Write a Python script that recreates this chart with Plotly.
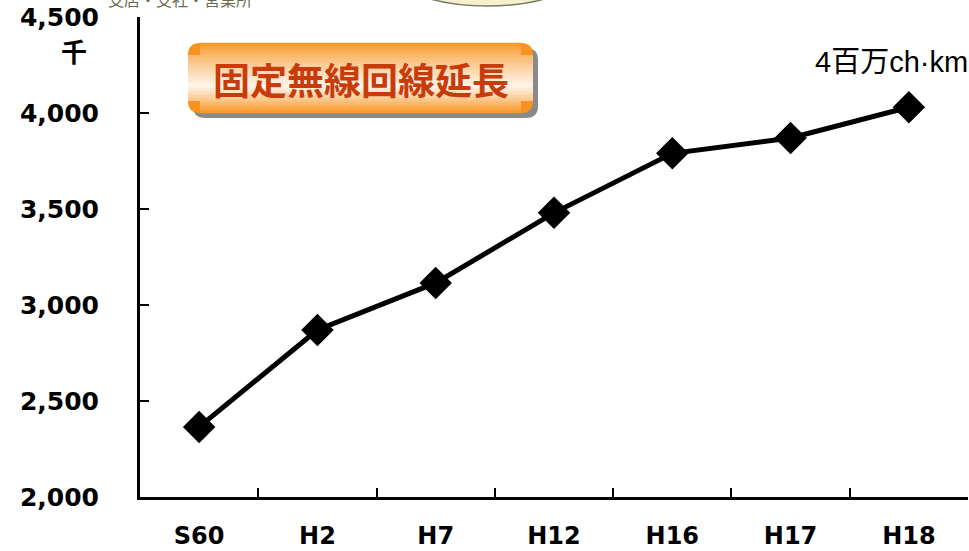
import plotly.graph_objects as go

categories = ["S60", "H2", "H7", "H12", "H16", "H17", "H18"]
values = [2365, 2870, 3115, 3480, 3790, 3870, 4030]
y_ticks = [2000, 2500, 3000, 3500, 4000, 4500]
y_tick_labels = ["2,000", "2,500", "3,000", "3,500", "4,000", "4,500"]
title_text = "固定無線回線延長"
unit_left = "千"
unit_right = "4百万ch·km"
top_text = "支店・支社・営業所"

W, H = 969, 551
ML, MR, MT, MB = 140, 1, 17, 54
PW, PH = W - ML - MR, H - MT - MB


def px(x):
    return (x - ML) / PW


def py(y):
    return (H - MB - y) / PH


def rounded_path(x0, y0, x1, y1, r):
    def P(x, y):
        return f"{px(x):.5f},{py(y):.5f}"
    return (f"M {P(x0 + r, y0)} L {P(x1 - r, y0)} Q {P(x1, y0)} {P(x1, y0 + r)} "
            f"L {P(x1, y1 - r)} Q {P(x1, y1)} {P(x1 - r, y1)} "
            f"L {P(x0 + r, y1)} Q {P(x0, y1)} {P(x0, y1 - r)} "
            f"L {P(x0, y0 + r)} Q {P(x0, y0)} {P(x0 + r, y0)} Z")


fig = go.Figure()
fig.add_trace(go.Scatter(
    x=categories, y=values, mode="lines+markers",
    line=dict(color="black", width=5),
    marker=dict(symbol="diamond", size=25, color="black"),
    showlegend=False, hoverinfo="x+y", cliponaxis=False,
))

shapes = []
# partially visible decorative ellipse at the very top
shapes.append(dict(type="circle", xref="paper", yref="paper",
                   x0=px(395), x1=px(580), y0=py(6), y1=py(-60),
                   fillcolor="#F6F0CC", line=dict(color="#7a7a6a", width=1.5), layer="below"))

bx0, by0, bx1, by1, r = 188, 43, 533, 113, 12
shapes.append(dict(type="path", xref="paper", yref="paper",
                   path=rounded_path(bx0 + 5, by0 + 5, bx1 + 5, by1 + 5, r),
                   fillcolor="#8a8a8a", line=dict(width=0), layer="above"))
shapes.append(dict(type="path", xref="paper", yref="paper",
                   path=rounded_path(bx0, by0, bx1, by1, r),
                   fillcolor="#F7931E", line=dict(width=0), layer="above"))

orange = (247, 147, 30)
light = (255, 246, 238)


def grad(t):
    if t < 0.62:
        f = (t / 0.62) ** 0.8
    else:
        f = ((1 - t) / 0.38) ** 0.9
    c = [round(o + (l - o) * f) for o, l in zip(orange, light)]
    return f"rgb({c[0]},{c[1]},{c[2]})"


n = 40
h = (by1 - by0)
for i in range(n):
    ya = by0 + h * i / n
    yb = by0 + h * (i + 1) / n
    t = (i + 0.5) / n
    inset = r if (ya < by0 + r or yb > by1 - r) else 0
    shapes.append(dict(type="rect", xref="paper", yref="paper",
                       x0=px(bx0 + inset), x1=px(bx1 - inset),
                       y0=py(yb + 0.3), y1=py(ya - 0.3),
                       fillcolor=grad(t), line=dict(width=0), layer="above"))

annotations = [
    dict(x=px((bx0 + bx1) / 2), y=py((by0 + by1) / 2 + 1), xref="paper", yref="paper",
         xanchor="center", yanchor="middle",
         text=f"<b>{title_text}</b>", showarrow=False,
         font=dict(family="Noto Sans CJK JP", size=37, color="#C83C0C")),
    dict(x=px(74), y=py(51), xref="paper", yref="paper", text=f"<b>{unit_left}</b>",
         xanchor="center", yanchor="middle",
         showarrow=False, font=dict(family="Noto Sans CJK JP", size=26, color="black")),
    dict(x=px(970), y=py(62), xref="paper", yref="paper", text=unit_right,
         xanchor="right", yanchor="middle", showarrow=False,
         font=dict(family="Liberation Sans, Noto Sans CJK JP", size=29, color="black")),
    dict(x=px(180), y=py(-1), xref="paper", yref="paper", text=top_text,
         xanchor="center", yanchor="middle",
         showarrow=False, font=dict(family="Noto Sans CJK JP", size=16, color="#6b6b50")),
]

fig.update_layout(
    width=W, height=H,
    margin=dict(l=ML, r=MR, t=MT, b=MB, autoexpand=False),
    paper_bgcolor="white", plot_bgcolor="rgba(0,0,0,0)",
    shapes=shapes, annotations=annotations,
    xaxis=dict(type="category", range=[-0.5, 6.5], showgrid=False, zeroline=False,
               automargin=False,
               showline=True, linecolor="black", linewidth=3,
               ticks="inside", tickson="boundaries", ticklen=9, tickwidth=2, tickcolor="black",
               tickfont=dict(family="DejaVu Sans", size=24, color="black", weight="bold"),
               ticklabelstandoff=15),
    yaxis=dict(range=[2000, 4500], tickvals=y_ticks, ticktext=y_tick_labels,
               showgrid=False, zeroline=False, automargin=False,
               showline=True, linecolor="black", linewidth=3,
               ticks="inside", ticklen=9, tickwidth=2, tickcolor="black",
               tickfont=dict(family="DejaVu Sans", size=25, color="black", weight="bold"),
               ticklabelstandoff=33),
)

fig.write_html("out.html", config={"displayModeBar": False},
               post_script="document.body.style.margin='0';document.body.style.overflow='hidden';")
